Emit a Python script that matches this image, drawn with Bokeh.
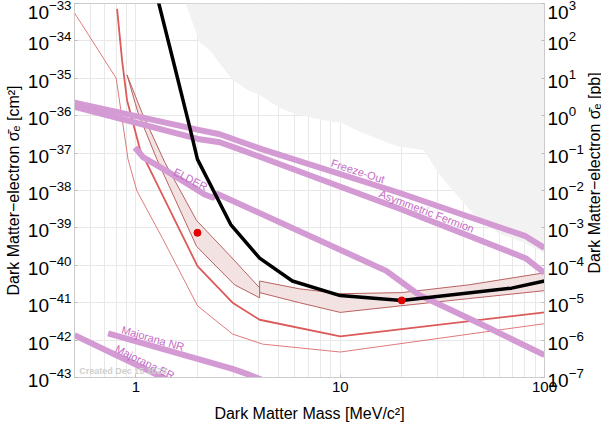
import math
from bokeh.plotting import figure
from bokeh.layouts import row
from bokeh.models import Range1d, LogScale, LogAxis, FixedTicker, LogTickFormatter, Label
from bokeh.core.properties import value
from bokeh.embed import file_html
from bokeh.resources import INLINE

# ---------------- ticks ----------------
x_major_ticks = [1, 10, 100]
x_minor_ticks = [0.5, 0.6, 0.7, 0.8, 0.9, 2, 3, 4, 5, 6, 7, 8, 9,
                 20, 30, 40, 50, 60, 70, 80, 90]
y_cm2_ticks = [float(f"1e{k}") for k in range(-43, -32)]
y_pb_ticks = [float(f"1e{k}") for k in range(-7, 4)]

# ---------------- data (mass in MeV, cross section in cm^2) ----------------
grey_mass = [1.75, 2.05, 2.30, 2.72, 2.97, 3.52, 4.03, 5.04, 6.10, 9.14, 10.1, 12.4,
             17.7, 19.4, 25.7, 30.4, 46.0, 59.7, 80.8, 100, 100]
grey_sigma = [1e-33, 9.1e-35, 5.6e-35, 1.66e-35, 9.1e-36, 4.9e-36, 3.6e-36, 1.62e-36,
              1.07e-36, 6.9e-37, 6.6e-37, 3.8e-37, 1.74e-37, 1.51e-37, 1.2e-37, 2.75e-38,
              2.0e-39, 7.1e-40, 3.9e-40, 2.1e-40, 1e-33]

bandA_upper_mass = [0.904, 1.07, 1.385, 1.98, 2.87, 4.03]
bandA_upper_sigma = [1.23e-35, 1.2e-36, 5.6e-38, 1.58e-39, 1.86e-40, 2.5e-41]
bandA_lower_mass = [0.904, 1.023, 1.266, 1.98, 3.04, 4.03]
bandA_lower_sigma = [1.23e-35, 1.2e-36, 6.8e-38, 3.2e-40, 3.0e-41, 1.35e-41]

bandB_mass = [4.03, 6.31, 10, 20, 42.6, 100]
bandB_upper_sigma = [3.8e-41, 2.35e-41, 1.74e-41, 1.86e-41, 3.0e-41, 6.3e-41]
bandB_lower_sigma = [1.86e-41, 1.0e-41, 5.5e-42, 8.3e-42, 1.29e-41, 2.1e-41]

thin_mass = [0.5, 0.8, 0.914, 1.01, 1.35, 2.0, 2.97, 4.17, 10, 100]
thin_sigma = [5.6e-34, 1.0e-35, 6.9e-38, 9.8e-39, 5.2e-40, 8.3e-42, 1.45e-42, 7.8e-43,
              4.8e-43, 2.75e-42]

mid_mass = [0.808, 0.855, 0.904, 1.046, 2.0, 2.97, 4.03, 10, 100]
mid_sigma = [7.2e-34, 3.0e-35, 2.6e-36, 1.26e-37, 9.5e-41, 1.0e-41, 3.5e-42, 1.26e-42, 5.5e-42]

black_mass = [1.28, 1.52, 1.83, 2.0, 2.91, 4.03, 5.83, 10, 20, 69, 100]
black_sigma = [1.26e-33, 3.0e-35, 5.1e-37, 6.8e-38, 1.23e-39, 1.55e-40, 3.8e-41, 1.55e-41,
               1.15e-41, 2.45e-41, 3.8e-41]

freeze_mass = [0.5, 2.05, 2.57, 4.16, 19.4, 80.8, 100]
freeze_sigma = [2.24e-36, 4.1e-37, 3.2e-37, 1.26e-37, 8.7e-39, 6.0e-40, 2.9e-40]

asym_mass = [0.5, 2.05, 2.57, 3.22, 19.4, 80.8, 100]
asym_sigma = [1.74e-36, 2.34e-37, 1.95e-37, 1.26e-37, 3.3e-39, 1.55e-40, 6.3e-41]

elder_mass = [0.989, 1.082, 1.416, 2.17, 2.37, 2.51, 16.8, 24.3, 49.3, 100]
elder_sigma = [1.41e-37, 7.8e-38, 3.3e-38, 7.8e-39, 6.5e-39, 8.1e-39, 7.1e-41, 1.62e-41,
               2.6e-42, 4.0e-43]

maj_nr_mass = [0.73, 2.97, 3.6, 4.3]
maj_nr_sigma = [1.51e-42, 1.7e-43, 1.17e-43, 8.0e-44]

maj_er_mass = [0.5, 1.354, 1.6]
maj_er_sigma = [1.35e-42, 1.0e-43, 6.5e-44]

dot_mass = [2.0, 20]
dot_sigma = [7.4e-40, 1.15e-41]

# ---------------- styles ----------------
FONT = "Liberation Sans"
PURPLE = "#d39ad3"
PURPLE_TXT = "#c46cc4"
RED = "#dc5a5a"
RED_THIN = "#e07a7a"
BAND_FILL = "#f2e2e2"
BAND_LINE = "#b96262"
GRID = "#e8e8e8"
H = 424

p = figure(width=586, height=H, x_axis_type="log", y_axis_type="log",
           x_range=Range1d(0.5, 100), y_range=Range1d(1e-43, 1e-33),
           output_backend="svg", toolbar_location=None,
           min_border_left=74, min_border_right=38, min_border_top=3,
           min_border_bottom=44)
p.extra_y_ranges = {"pb": Range1d(1e-7, 1e3)}
p.extra_y_scales = {"pb": LogScale()}
p.outline_line_color = "#cccccc"
p.background_fill_color = "white"
p.border_fill_color = "white"

xt = FixedTicker(ticks=x_major_ticks, minor_ticks=x_minor_ticks)
yt = FixedTicker(ticks=y_cm2_ticks)
p.xaxis[0].ticker = xt
p.yaxis[0].ticker = yt
p.xgrid[0].ticker = xt
p.ygrid[0].ticker = yt
p.xaxis[0].formatter = LogTickFormatter(min_exponent=3)
p.yaxis[0].formatter = LogTickFormatter()
p.xgrid.grid_line_color = GRID
p.xgrid.minor_grid_line_color = GRID
p.ygrid.grid_line_color = GRID
p.ygrid.minor_grid_line_color = None

right = LogAxis(y_range_name="pb", ticker=FixedTicker(ticks=y_pb_ticks),
                formatter=LogTickFormatter())
p.add_layout(right, "right")

p.xaxis[0].axis_label = "Dark Matter Mass [MeV/c²]"
p.yaxis[0].axis_label = "Dark Matter−electron σ̄ₑ [cm²]"

for ax in [p.xaxis[0], p.yaxis[0], right]:
    ax.axis_line_color = "#cccccc"
    ax.major_tick_line_color = "#bbbbbb"
    ax.major_tick_in = 3
    ax.major_tick_out = 0
    ax.minor_tick_line_color = None
    ax.major_label_text_font = FONT
    ax.major_label_text_color = "black"
    ax.major_label_standoff = 3
    ax.axis_label_text_font = FONT
    ax.axis_label_text_font_size = "16px"
    ax.axis_label_text_font_style = "normal"
    ax.axis_label_text_color = "black"
    ax.axis_label_standoff = 3

p.xaxis[0].major_label_text_font_size = "15px"
p.xaxis[0].major_label_standoff = 0
p.xaxis[0].axis_label_standoff = 10
p.yaxis[0].major_label_text_font_size = "19px"
right.major_label_text_font_size = "19px"

# ---------------- glyphs ----------------
p.patch(grey_mass, grey_sigma, fill_color="#f2f2f2", line_color=None)

p.patch(bandA_upper_mass + bandA_lower_mass[::-1], bandA_upper_sigma + bandA_lower_sigma[::-1],
        fill_color=BAND_FILL, line_color=BAND_LINE, line_width=1)
p.patch(bandB_mass + bandB_mass[::-1], bandB_upper_sigma + bandB_lower_sigma[::-1],
        fill_color=BAND_FILL, line_color=BAND_LINE, line_width=1)

p.line(thin_mass, thin_sigma, line_color=RED_THIN, line_width=1)
p.line(mid_mass, mid_sigma, line_color=RED, line_width=1.8)

for mm, ss in [(freeze_mass, freeze_sigma), (asym_mass, asym_sigma), (elder_mass, elder_sigma),
               (maj_nr_mass, maj_nr_sigma), (maj_er_mass, maj_er_sigma)]:
    p.line(mm, ss, line_color=PURPLE, line_width=6, line_join="round")

p.line(black_mass, black_sigma, line_color="black", line_width=3.5, line_join="round")
p.scatter(dot_mass, dot_sigma, size=7, fill_color="#e00000", line_color="#e00000")

labels = [
    ("Freeze-Out", 12.2, 3.3e-38, -18),
    ("Asymmetric Fermion", 26.5, 2.8e-39, -21),
    ("ELDER", 1.85, 2.0e-38, -27),
    ("Majorana NR", 1.21, 1.12e-42, -16),
    ("Majorana ER", 1.106, 2.6e-43, -26),
]
for txt, lx, ly, ang in labels:
    p.add_layout(Label(x=lx, y=ly, text=txt, angle=ang, angle_units="deg",
                       text_align="center", text_baseline="middle",
                       text_font=FONT, text_font_size="11px", text_color=PURPLE_TXT))

p.add_layout(Label(x=0.527, y=1.5e-43, text="Created Dec 15 2023", text_align="left",
                   text_baseline="middle", text_font=FONT, text_font_size="9px",
                   text_font_style="bold", text_color="#cfcfcf"))

# ---------------- narrow strip holding the right-hand axis title ----------------
q = figure(width=15, height=H, x_range=Range1d(0, 1), y_range=Range1d(0, 1),
           x_axis_location=None, y_axis_location=None, output_backend="svg",
           toolbar_location=None, min_border=0)
q.outline_line_color = None
q.grid.visible = False
q.background_fill_color = "white"
q.border_fill_color = "white"
q.text(x=[0.5], y=[0.547], text=["Dark Matter−electron σ̄ₑ [pb]"], angle=math.pi / 2,
       text_align="center", text_baseline="middle", text_font=value(FONT),
       text_font_size="16px", text_color="black")

layout = row(p, q)
open("out.html", "w").write(file_html(layout, INLINE))
